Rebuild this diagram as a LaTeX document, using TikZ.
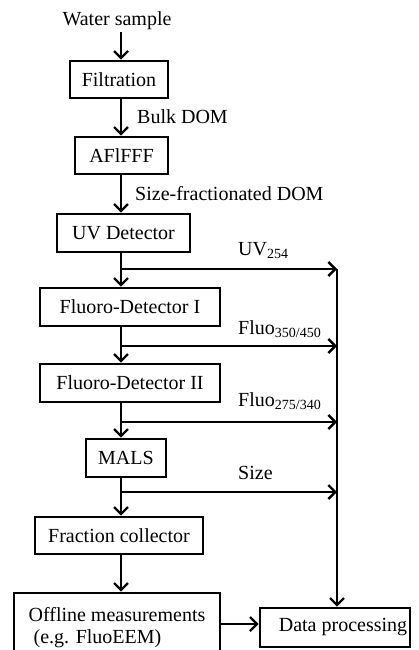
\documentclass[tikz,border=0pt]{standalone}
\usepackage{fontspec}
\setmainfont{Liberation Serif}
\usetikzlibrary{arrows.meta}
\begin{document}
\begin{tikzpicture}[x=1pt,y=-1pt,
  font=\fontsize{20}{22}\selectfont,
  box/.style={draw, line width=2.6pt, minimum height=37pt, inner sep=0pt},
  lbl/.style={inner sep=0pt, anchor=base west},
  arr/.style={line width=2.4pt, -{Straight Barb[length=7pt,width=14pt,line width=2.4pt]}}]
\useasboundingbox (0,0) rectangle (418,650);
\coordinate (ax) at (121,0);
% nodes
\node[inner sep=2pt, anchor=base] (ws) at (117,26) {Water sample};
\node[box, minimum width=98pt] (filt) at (119,79.5) {Filtration};
\node[box, minimum width=93pt] (afl) at (121.5,155.5) {AFlFFF};
\node[box, minimum width=133pt, minimum height=38pt] (uv) at (123.5,233) {UV Detector};
\node[box, minimum width=180pt, minimum height=38pt] (f1) at (130,307) {Fluoro-Detector I};
\node[box, minimum width=180pt, minimum height=38pt] (f2) at (130,383) {Fluoro-Detector II};
\node[box, minimum width=80pt, minimum height=38pt] (mals) at (126,458) {MALS};
\node[box, minimum width=168pt] (fc) at (119,535.5) {Fraction collector};
\node[box, minimum width=206pt, minimum height=69pt, align=left] (off) at (117,627.5) {Offline measurements\\\ (e.g. FluoEEM)};
\node[box, minimum width=150pt, minimum height=39pt] (dp) at (335,627.5) {\hspace*{16pt}Data processing};
% labels
\node[lbl] (l1) at (137,124) {Bulk DOM};
\node[lbl] (l2) at (135,200) {Size-fractionated DOM};
\node[lbl] (l3) at (238,255) {UV\textsubscript{254}};
\node[lbl] (l4) at (238,334) {Fluo\textsubscript{350/450}};
\node[lbl] (l5) at (238,406) {Fluo\textsubscript{275/340}};
\node[lbl] (l6) at (238,479) {Size};
% branch points
\coordinate (b1) at (121,269);
\coordinate (c1) at (337,269);
\coordinate (b2) at (121,346);
\coordinate (c2) at (337,346);
\coordinate (b3) at (121,422);
\coordinate (c3) at (337,422);
\coordinate (b4) at (121,492);
\coordinate (c4) at (337,492);
% main flow
\draw[arr] (ws.south -| ax) -- (filt.north -| ax);
\draw[arr] (filt.south -| ax) -- (afl.north -| ax);
\draw[arr] (afl.south -| ax) -- (uv.north -| ax);
\draw[arr] (uv.south -| ax) -- (f1.north -| ax);
\draw[arr] (f1.south -| ax) -- (f2.north -| ax);
\draw[arr] (f2.south -| ax) -- (mals.north -| ax);
\draw[arr] (mals.south -| ax) -- (fc.north -| ax);
\draw[arr] (fc.south -| ax) -- (off.north -| ax);
% branches
\draw[arr] (b1) -- (c1);
\draw[arr] (b2) -- (c2);
\draw[arr] (b3) -- (c3);
\draw[arr] (b4) -- (c4);
\draw[arr] (c1) -- (dp.north -| c1);
\draw[arr] (off.east |- 0,624) -- (dp.west |- 0,624);
\end{tikzpicture}
\end{document}
